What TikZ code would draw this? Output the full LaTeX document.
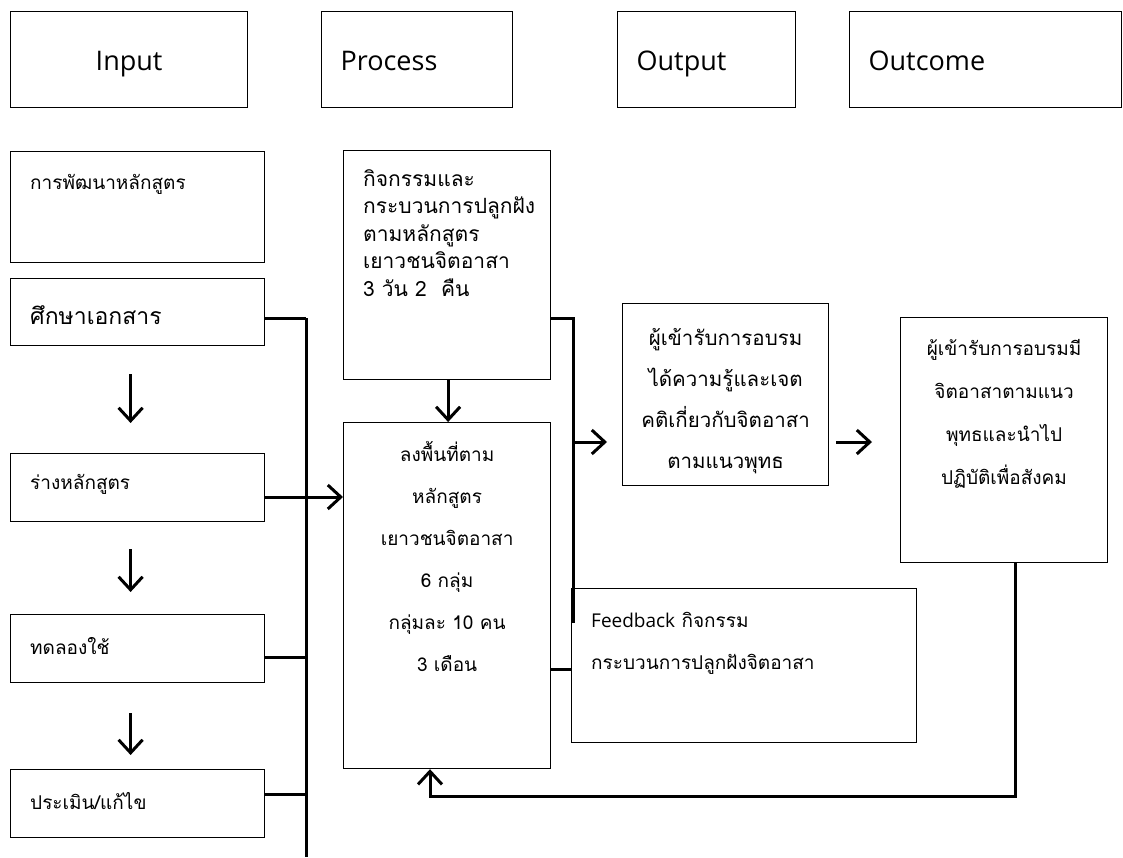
\documentclass[tikz,border=0pt]{standalone}
\usepackage{fontspec}
\setmainfont{Open Sans}
\newfontfamily\thai[Script=Thai]{Loma}
\usetikzlibrary{arrows.meta}

\tikzset{
  hdr/.style={draw, line width=1.2pt, anchor=north west, inner sep=0pt,
    minimum height=96pt, text height=24pt, text depth=2pt, font=\fontsize{27}{32}\selectfont},
  box/.style={draw, line width=1.2pt, anchor=north west, inner sep=0pt},
  txt/.style={inner sep=0pt, font=\thai\fontsize{19}{27.5}\selectfont},
  wire/.style={line width=3pt},
  flow/.style={line width=3pt, -{Straight Barb[length=13pt,width=24pt]}},
}

\begin{document}
\begin{tikzpicture}[x=1pt, y=-1pt]
\useasboundingbox (0,0) rectangle (1123,857);

% headings
\node[hdr, minimum width=237pt] (hin) at (10,11) {Input};
\node[hdr, minimum width=191pt, text width=153pt, inner xsep=19pt, align=left] (hpro) at (321,11) {Process};
\node[hdr, minimum width=178pt, text width=140pt, inner xsep=19pt, align=left] (hout) at (617,11) {Output};
\node[hdr, minimum width=272pt, text width=234pt, inner xsep=19pt, align=left] (hoc) at (849,11) {Outcome};

% input column
\node[box, minimum width=254pt, minimum height=111pt] (b1) at (10,151) {};
\node[box, minimum width=254pt, minimum height=67pt] (b2) at (10,278) {};
\node[box, minimum width=254pt, minimum height=68pt] (b3) at (10,453) {};
\node[box, minimum width=254pt, minimum height=68pt] (b4) at (10,614) {};
\node[box, minimum width=254pt, minimum height=68pt] (b5) at (10,769) {};
\node[txt, anchor=west] (t1) at ([xshift=20pt, yshift=-33pt]b1.north west) {การพัฒนาหลักสูตร};
\node[txt, anchor=west, font=\thai\fontsize{23}{28}\selectfont] (t2) at ([xshift=20pt, yshift=-37pt]b2.north west) {ศึกษาเอกสาร};
\node[txt, anchor=west] (t3) at ([xshift=20pt, yshift=-31pt]b3.north west) {ร่างหลักสูตร};
\node[txt, anchor=west] (t4) at ([xshift=20pt, yshift=-32pt]b4.north west) {ทดลองใช้};
\node[txt, anchor=west] (t5) at ([xshift=20pt, yshift=-32pt]b5.north west) {ประเมิน/แก้ไข};

\draw[flow] ([xshift=-7pt, yshift=-28pt]b2.south) -- ([xshift=-7pt, yshift=30pt]b3.north);
\draw[flow] ([xshift=-7pt, yshift=-27pt]b3.south) -- ([xshift=-7pt, yshift=22pt]b4.north);
\draw[flow] ([xshift=-7pt, yshift=-30pt]b4.south) -- ([xshift=-7pt, yshift=14pt]b5.north);

% bus to process
\coordinate (j2) at (306,318);
\coordinate (j3) at (306,497);
\coordinate (j4) at (306,657);
\coordinate (j5) at (306,794);
\coordinate (jend) at (306,857);
\draw[wire] (j2) -- (jend);
\draw[wire] (b2.east |- j2) -- (j2);
\draw[wire] (b3.east |- j3) -- (j3);
\draw[wire] (b4.east |- j4) -- (j4);
\draw[wire] (b5.east |- j5) -- (j5);

% process column
\node[box, minimum width=207pt, minimum height=229pt] (p1) at (343,150) {};
\node[box, minimum width=207pt, minimum height=346pt] (p2) at (343,422) {};
\node[txt, anchor=north west, align=left, font=\thai\fontsize{21}{27.5}\selectfont] (t6) at ([xshift=20pt, yshift=-19pt]p1.north west)
  {กิจกรรมและ\\กระบวนการปลูกฝัง\\ตามหลักสูตร\\เยาวชนจิตอาสา\\3 วัน 2 \ คืน};
\node[txt, anchor=north, align=center, font=\thai\fontsize{19}{42}\selectfont] (t7) at ([yshift=-19pt]p2.north)
  {ลงพื้นที่ตาม\\หลักสูตร\\เยาวชนจิตอาสา\\6 กลุ่ม\\กลุ่มละ 10 คน\\3 เดือน};
\draw[flow] (j3) -- (p2.west |- j3);
\draw[flow] ([xshift=1pt]p1.south) -- ([xshift=1pt]p2.north);

% output and outcome
\node[box, minimum width=206pt, minimum height=182pt] (o1) at (622,303) {};
\node[box, minimum width=207pt, minimum height=245pt] (o2) at (900,317) {};
\node[txt, anchor=north, align=center, font=\thai\fontsize{20.5}{41}\selectfont] (t8) at ([yshift=-25pt]o1.north)
  {ผู้เข้ารับการอบรม\\ได้ความรู้และเจต\\คติเกี่ยวกับจิตอาสา\\ตามแนวพุทธ};
\node[txt, anchor=north, align=center, font=\thai\fontsize{19}{43}\selectfont] (t9) at ([yshift=-22pt]o2.north)
  {ผู้เข้ารับการอบรมมี\\จิตอาสาตามแนว\\พุทธและนำไป\\ปฏิบัติเพื่อสังคม};

\coordinate (k1) at (573,318);
\coordinate (k2) at (573,623);
\coordinate (k3) at (573,442);
\draw[wire] (p1.east |- k1) -- (k1) -- (k2);
\draw[flow, shorten >=15pt] (k3) -- (o1.west |- k3);
\draw[flow, shorten <=7pt, shorten >=28pt] (o1.east |- k3) -- (o2.west |- k3);

% feedback
\node[box, minimum width=345pt, minimum height=154pt] (fb) at (571,588) {};
\node[txt, anchor=north west, align=left, font=\thai\fontsize{19}{42}\selectfont] (t10) at ([xshift=20pt, yshift=-24pt]fb.north west)
  {{\fontspec{Open Sans}Feedback} กิจกรรม\\กระบวนการปลูกฝังจิตอาสา};
\coordinate (f1) at (573,669);
\draw[wire] (p2.east |- f1) -- (fb.west |- f1);

\coordinate (lr) at (1015,796);
\coordinate (ll) at (430,796);
\draw[flow] (o2.south -| lr) -- (lr) -- (ll) -- (p2.south -| ll);
\end{tikzpicture}
\end{document}
